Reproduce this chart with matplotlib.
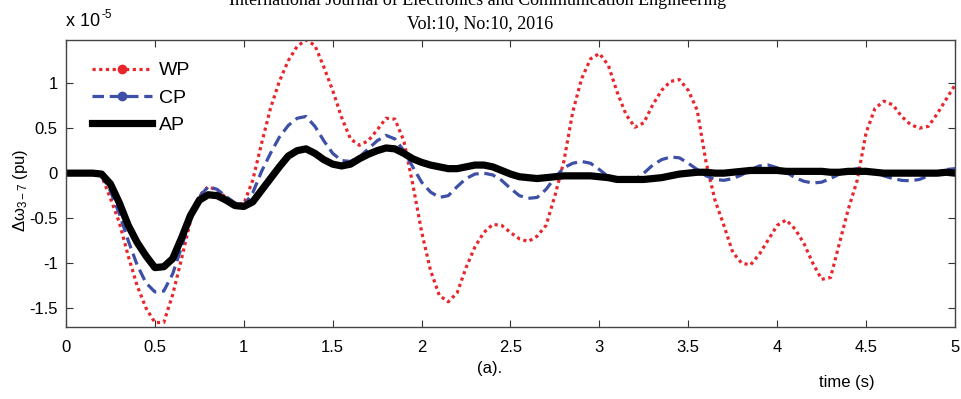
import numpy as np
import matplotlib
matplotlib.use("Agg")
import matplotlib.pyplot as plt
from matplotlib.lines import Line2D

plt.rcParams['font.family'] = ['Liberation Sans', 'DejaVu Sans']
plt.rcParams['axes.unicode_minus'] = False
plt.rcParams['mathtext.fontset'] = 'custom'
plt.rcParams['mathtext.rm'] = 'Liberation Sans'
plt.rcParams['mathtext.it'] = 'Liberation Sans:italic'

# sample times (s), every 0.05 s
time = np.linspace(0, 5, 101)

# values in units of 1e-5 pu
wp = [0, 0, 0, 0, -0.03, -0.28, -0.55, -0.92, -1.25, -1.5,
      -1.66, -1.66, -1.35, -0.95, -0.53, -0.25, -0.15, -0.19, -0.27, -0.34,
      -0.34, -0.08, 0.33, 0.72, 1.02, 1.25, 1.41, 1.48, 1.42, 1.18,
      0.92, 0.62, 0.38, 0.31, 0.36, 0.48, 0.61, 0.6, 0.36, -0.12,
      -0.65, -1.08, -1.36, -1.43, -1.33, -1.05, -0.82, -0.66, -0.57, -0.58,
      -0.66, -0.73, -0.76, -0.7, -0.58, -0.25, 0.13, 0.68, 1.05, 1.27,
      1.33, 1.2, 0.9, 0.65, 0.51, 0.56, 0.76, 0.92, 1.02, 1.04,
      0.92, 0.7, 0.12, -0.3, -0.58, -0.88, -1.0, -1.02, -0.9, -0.74,
      -0.58, -0.52, -0.62, -0.78, -1.0, -1.18, -1.16, -0.78, -0.4, -0.08,
      0.45, 0.72, 0.8, 0.76, 0.63, 0.54, 0.5, 0.52, 0.66, 0.82,
      0.98]

cp = [0, 0, 0, 0, -0.02, -0.2, -0.45, -0.75, -1.02, -1.22,
      -1.32, -1.31, -1.12, -0.82, -0.5, -0.26, -0.15, -0.18, -0.26, -0.33,
      -0.36, -0.22, 0.02, 0.22, 0.4, 0.53, 0.61, 0.63, 0.52, 0.36,
      0.22, 0.14, 0.13, 0.18, 0.27, 0.36, 0.42, 0.38, 0.25, 0.07,
      -0.1, -0.21, -0.27, -0.25, -0.15, -0.06, -0.01, 0.0, -0.02, -0.08,
      -0.17, -0.25, -0.28, -0.27, -0.18, -0.05, 0.06, 0.11, 0.13, 0.11,
      0.04, -0.04, -0.08, -0.09, -0.07, 0.0, 0.09, 0.15, 0.18, 0.17,
      0.11, 0.04, -0.03, -0.07, -0.08, -0.06, -0.02, 0.04, 0.08, 0.09,
      0.06, 0.01, -0.05, -0.09, -0.11, -0.1, -0.06, -0.01, 0.03, 0.05,
      0.04, 0.01, -0.03, -0.06, -0.08, -0.085, -0.07, -0.03, 0.01, 0.04,
      0.05]

ap = [0, 0, 0, 0, -0.01, -0.12, -0.33, -0.58, -0.77, -0.92,
      -1.05, -1.04, -0.95, -0.72, -0.47, -0.3, -0.24, -0.25, -0.3, -0.36,
      -0.37, -0.32, -0.19, -0.06, 0.07, 0.19, 0.25, 0.27, 0.22, 0.15,
      0.1, 0.08, 0.1, 0.16, 0.21, 0.25, 0.28, 0.27, 0.22, 0.16,
      0.12, 0.09, 0.07, 0.05, 0.05, 0.07, 0.09, 0.09, 0.07, 0.03,
      -0.01, -0.04, -0.05, -0.06, -0.05, -0.04, -0.03, -0.03, -0.03, -0.03,
      -0.04, -0.05, -0.07, -0.07, -0.07, -0.07, -0.06, -0.05, -0.03, -0.01,
      0.0, 0.01, 0.01, 0.0, 0.0, 0.01, 0.02, 0.03, 0.03, 0.03,
      0.03, 0.02, 0.02, 0.02, 0.02, 0.02, 0.01, 0.01, 0.02, 0.02,
      0.02, 0.01, 0.0, 0.0, 0.0, 0.0, 0.0, 0.0, 0.0, 0.01,
      0.0]

labels = ["WP", "CP", "AP"]
xticks = [0, 0.5, 1, 1.5, 2, 2.5, 3, 3.5, 4, 4.5, 5]
yticks = [-1.5, -1, -0.5, 0, 0.5, 1]

red = "#e8262c"
blue = "#3d4fa6"

fig = plt.figure(figsize=(9.62, 3.99), dpi=100)
ax = fig.add_axes([66 / 962, 72 / 399, 889 / 962, 287 / 399])

ax.plot(time, wp, color=red, lw=2.3, dashes=(1, 1.1))
ax.plot(time, cp, color=blue, lw=2.3, dashes=(3.6, 1.8))
ax.plot(time, ap, color="black", lw=5.2, solid_joinstyle="round",
        solid_capstyle="round")

ax.set_xlim(0, 5)
ax.set_ylim(-1.71, 1.48)
ax.set_xticks(xticks)
ax.set_xticklabels([f"{v:g}" for v in xticks],
                   family=['Liberation Sans Narrow', 'Liberation Sans'])
ax.set_yticks(yticks)
ax.set_yticklabels([f"{v:g}" for v in yticks])
ax.tick_params(direction="in", top=True, right=True, length=5, width=0.8,
               color="#333333", labelsize=12)
ax.tick_params(axis="x", pad=9)
ax.tick_params(axis="y", pad=6)
for s in ax.spines.values():
    s.set_color("#444444")
    s.set_linewidth(1.0)

# legend with markers as in the original
handles = [Line2D([], [], color=red, lw=2.3, dashes=(1, 1.1), marker="o",
                  markersize=6),
           Line2D([], [], color=blue, lw=2.3, dashes=(3.6, 1.8), marker="o",
                  markersize=6),
           Line2D([], [], color="black", lw=5.2)]
ax.legend(handles, labels, loc="upper left", bbox_to_anchor=(0.009, 0.985),
          frameon=False, fontsize=14, handlelength=3.1, handletextpad=0.36,
          labelspacing=0.5, numpoints=1)

fig.text(66 / 962, 1 - 22 / 399, "x 10", fontsize=13, va="center")
fig.text(101 / 962, 1 - 15 / 399, "-5", fontsize=8.5, va="center")
fig.text(478 / 962, 1 - 5 / 399,
         "International Journal of Electronics and Communication Engineering",
         family=['Liberation Serif'], fontsize=13, ha="center", va="baseline")
fig.text(480 / 962, 1 - 28 / 399, "Vol:10, No:10, 2016",
         family=['Liberation Serif'], fontsize=13, ha="center", va="baseline")

fig.text(20 / 962, 1 - 190 / 399, r"Δω$_{\mathregular{3-7}}$ (pu)",
         rotation=90, fontsize=12, ha="center", va="center")
fig.text(490 / 962, 1 - 368 / 399, "(a).", fontsize=12, ha="center",
         va="center", family=['Liberation Sans Narrow', 'Liberation Sans'])
fig.text(847 / 962, 1 - 382 / 399, "time (s)", fontsize=12, ha="center",
         va="center", family=['Liberation Sans Narrow', 'Liberation Sans'])

fig.savefig("out.png", dpi=100)
